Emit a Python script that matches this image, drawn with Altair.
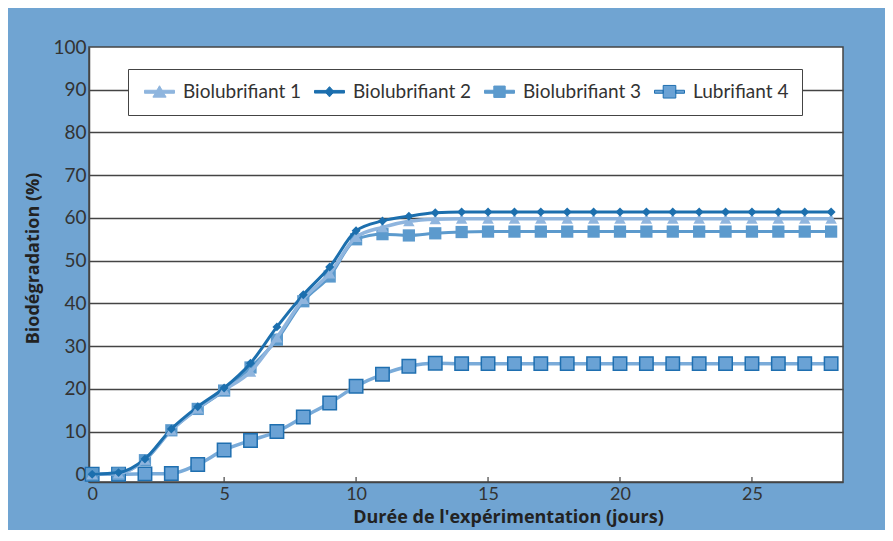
import altair as alt
import pandas as pd

days = list(range(29))
series = ["Biolubrifiant 1", "Biolubrifiant 2", "Biolubrifiant 3", "Lubrifiant 4"]

bio1 = [0, 0.2, 3.4, 10.3, 15.4, 19.7, 24, 32, 41, 47, 55.5, 57.8, 59.2, 59.7,
        59.8, 59.8, 59.8, 59.8, 59.8, 59.8, 59.8, 59.8, 59.8, 59.8, 59.8, 59.8, 59.8, 59.8, 59.8]
bio2 = [0, 0.4, 3.6, 10.6, 15.8, 20.2, 26, 34.5, 42, 48.5, 57, 59.3, 60.4, 61.2,
        61.4, 61.4, 61.4, 61.4, 61.4, 61.4, 61.4, 61.4, 61.4, 61.4, 61.4, 61.4, 61.4, 61.4, 61.4]
bio3 = [0, 0.2, 3.3, 10.3, 15.3, 19.6, 25, 31.5, 40.5, 46.3, 55, 56.2, 55.9, 56.4,
        56.7, 56.8, 56.8, 56.8, 56.8, 56.8, 56.8, 56.8, 56.8, 56.8, 56.8, 56.8, 56.8, 56.8, 56.8]
lub4 = [0, 0, 0.1, 0.2, 2.3, 5.7, 7.9, 10, 13.4, 16.7, 20.6, 23.4, 25.3, 26,
        25.9, 25.9, 25.9, 25.9, 25.9, 25.9, 25.9, 25.9, 25.9, 25.9, 25.9, 25.9, 25.9, 25.9, 25.9]

x_ticks = [0, 5, 10, 15, 20, 25]
x_inner_ticks = [5, 10, 15, 20, 25]
y_ticks = [0, 10, 20, 30, 40, 50, 60, 70, 80, 90, 100]

rows = []
for s, vals in zip(series, [bio1, bio2, bio3, lub4]):
    for d, v in zip(days, vals):
        rows.append({"jour": d, "serie": s, "val": v})
df = pd.DataFrame(rows)
ticks_df = pd.DataFrame({"t": x_inner_ticks})

FONT = "Lato"
TFONT = "Open Sans"
DARK = "#444444"

x_scale = alt.Scale(domain=[-0.12, 28.45], nice=False, zero=False)
y_scale = alt.Scale(domain=[-1.8, 100], nice=False, zero=False)

x_axis = alt.Axis(values=x_ticks, title="Durée de l'expérimentation (jours)", grid=False,
                  ticks=False, labelFlush=False, labelPadding=3, labelFont=FONT,
                  labelFontSize=18, labelColor="#333333", domainColor=DARK, domainWidth=1.5,
                  titleFont=TFONT, titleFontSize=18, titleFontWeight="bold", titleColor="#222222",
                  titleX=419, titlePadding=5)
y_axis = alt.Axis(values=y_ticks, title="Biodégradation (%)", grid=True, ticks=False,
                  labelFlush=False, labelPadding=3, labelFont=FONT, labelFontSize=19,
                  labelColor="#333333", domainColor=DARK, domainWidth=1.5,
                  gridColor=DARK, gridWidth=1.3,
                  gridOpacity={"condition": {"test": "datum.value === 0 || datum.value === 100", "value": 0}, "value": 1},
                  titleFont=TFONT, titleFontSize=18, titleFontWeight="bold", titleColor="#222222",
                  titleX=-56, titleY=211, titleBaseline="middle")

def X():
    return alt.X("jour:Q", scale=x_scale, axis=x_axis)

def Y():
    return alt.Y("val:Q", scale=y_scale, axis=y_axis)

base = alt.Chart(df)

def line(name, color, width):
    return base.transform_filter(alt.datum.serie == name).mark_line(
        interpolate="monotone", color=color, strokeWidth=width).encode(x=X(), y=Y())

def pts(name, **kw):
    return base.transform_filter(alt.datum.serie == name).mark_point(
        filled=True, opacity=1, **kw).encode(x=X(), y=Y())

layers = [
    line("Lubrifiant 4", "#7aabd9", 3.5),
    pts("Lubrifiant 4", shape="square", size=180, fill="#6aa2d5", stroke="#1f6fb0", strokeWidth=1.5),
    line("Biolubrifiant 3", "#5c9acd", 3),
    pts("Biolubrifiant 3", shape="square", size=150, color="#5c9acd"),
    line("Biolubrifiant 1", "#8fb5de", 3.5),
    line("Biolubrifiant 2", "#1c6fae", 3),
    pts("Biolubrifiant 1", shape="triangle-up", size=130, color="#8fb5de"),
    pts("Biolubrifiant 2", shape="diamond", size=80, color="#1c6fae"),
]

tick_layer = alt.Chart(ticks_df).mark_rule(color=DARK, strokeWidth=1.2).encode(
    x=alt.X("t:Q", scale=x_scale, axis=x_axis),
    y=alt.value(435), y2=alt.value(430))

leg_fill = ["#8fb5de", "#1c6fae", "#5c9acd", "#6aa2d5"]
leg_stroke = ["#8fb5de", "#1c6fae", "#5c9acd", "#1f6fb0"]
leg_paths = [
    "M-1,-0.25H4V0.25H-1Z M1.5,-1L2.6,0.9L0.4,0.9Z",
    "M-1,-0.22H4V0.22H-1Z M1.5,-0.85L2.25,0L1.5,0.85L0.75,0Z",
    "M-1,-0.25H4V0.25H-1Z M0.55,-0.95H2.45V0.95H0.55Z",
    "M-1,-0.25H0.45V0.25H-1Z M2.55,-0.25H4V0.25H2.55Z M0.45,-1.05H2.55V1.05H0.45Z",
]

def leg():
    return alt.Legend(title=None, orient="none", direction="horizontal", legendX=39, legendY=22)

legend_layer = base.transform_filter("false").mark_point(filled=True, opacity=1, strokeWidth=1).encode(
    x=X(), y=Y(),
    fill=alt.Fill("serie:N", scale=alt.Scale(domain=series, range=leg_fill), legend=leg()),
    stroke=alt.Stroke("serie:N", scale=alt.Scale(domain=series, range=leg_stroke), legend=leg()),
    shape=alt.Shape("serie:N", scale=alt.Scale(domain=series, range=leg_paths), legend=leg()),
)

chart = alt.layer(*layers, tick_layer, legend_layer).properties(
    width=754, height=435, background="#70a4d2",
    padding={"left": 81, "top": 39, "right": 42, "bottom": 48},
    autosize=alt.AutoSizeParams(type="none"),
).configure_view(fill="white", stroke=DARK, strokeWidth=1.5).configure_legend(
    symbolSize=144, symbolStrokeWidth=1, symbolOpacity=1, labelOffset=23, columnPadding=9,
    padding=13, strokeColor=DARK, fillColor="white", labelFont=FONT, labelFontSize=19,
    labelColor="#333333",
)

chart.save("out.html", embed_options={"renderer": "svg", "actions": False})
